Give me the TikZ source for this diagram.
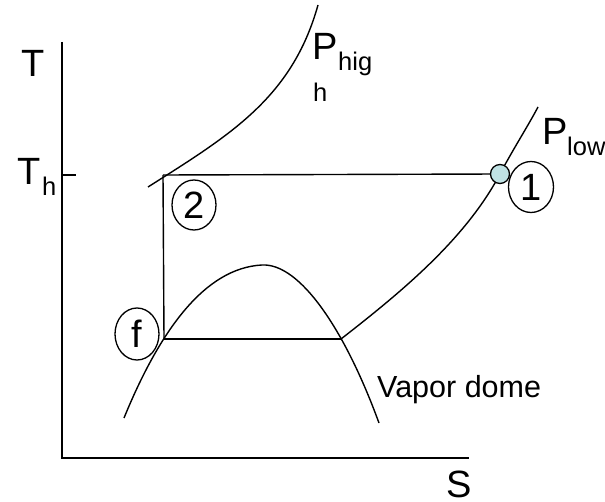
\documentclass[tikz,border=0pt]{standalone}
\usepackage{fontspec}
\setmainfont{Liberation Sans}
\usetikzlibrary{shapes.geometric}
\definecolor{dotfill}{RGB}{192,226,228}
\begin{document}
\begin{tikzpicture}[x=1pt,y=-1pt,
  curve/.style={line width=1.4pt},
  axis/.style={line width=1.7pt},
  big/.style={inner sep=0pt,anchor=base west,font=\fontsize{38}{42}\selectfont},
  sub/.style={inner sep=0pt,anchor=base west,font=\fontsize{25.5}{29}\selectfont},
  label/.style={inner sep=0pt,anchor=base west,font=\fontsize{30.5}{34}\selectfont},
  stateell/.style={ellipse,draw,line width=1.3pt,inner sep=0pt,font=\fontsize{38}{42}\selectfont}]
\useasboundingbox (0,0) rectangle (605,502);
% key points
\coordinate (top) at (62,42);
\coordinate (origin) at (62,458);
\coordinate (xend) at (469,458);
\coordinate (tick) at (76,175);
\coordinate (tickl) at (62,175);
\coordinate (p2) at (163,175);
\coordinate (pf) at (164,339);
\coordinate (pg) at (341,339);
\coordinate (ph0) at (148,187);
\coordinate (ph1) at (318,5);
\coordinate (pl1) at (538,107);
\coordinate (dl) at (124,418);
\coordinate (peak) at (262,265);
\coordinate (dr) at (379,423);
% axes
\draw[axis] (top) -- (origin) -- (xend);
\draw[curve] (tickl) -- (tick);
% high pressure line
\draw[curve] (ph0) .. controls (230,135) and (292,98) .. (ph1);
% vapor dome
\draw[curve] (dl) .. controls (160,330) and (205,268) .. (peak)
   .. controls (300,263) and (345,330) .. (dr);
% low pressure line
\coordinate (p1) at (500,174);
\draw[curve] (pg) .. controls (400,293) and (465,240) .. (p1)
   .. controls (512,151) and (528,126) .. (pl1);
% cycle lines
\draw[curve] (p2) -- (p1);
\draw[curve] (p2) -- (pf);
\draw[curve] (pf) -- (pg);
\node[circle,draw,line width=1.3pt,fill=dotfill,minimum size=19pt,inner sep=0pt] (dot1) at (p1) {};
% state labels
\node[stateell,minimum width=44pt,minimum height=50pt] (s2) at (194,205) {2};
\node[stateell,minimum width=45pt,minimum height=51pt] (s1) at (531,187) {1};
\node[stateell,minimum width=44pt,minimum height=52pt] (sf) at (137,334) {f};
% texts
\node[big] (tT) at (21,77) {T};
\node[big] (tTh) at (17,185) {T};
\node[sub] (tTsub) at (42,196) {h};
\node[big] (tPh) at (312,60) {P};
\node[sub] (tPhsub) at (338,71) {hig};
\node[sub] (tPhsub2) at (313,102) {h};
\node[big] (tPl) at (542,145) {P};
\node[sub] (tPlsub) at (567,156) {low};
\node[big] (tS) at (446,497) {S};
\node[label] (tvd) at (377,397) {Vapor dome};
\end{tikzpicture}
\end{document}
